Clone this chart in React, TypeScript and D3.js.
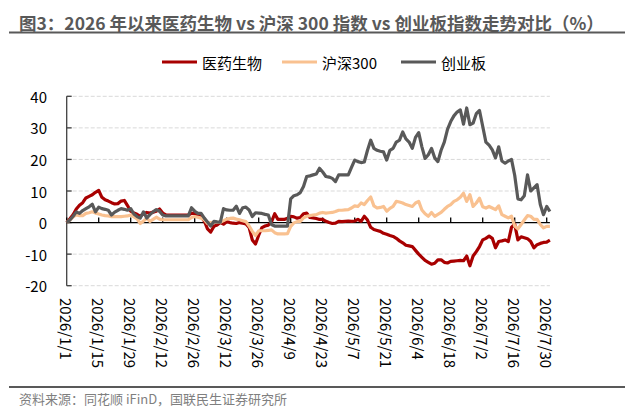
import * as d3 from "d3";
import { useRef, useEffect } from "react";

// Cumulative change since 2026/1/1 (%), one value per weekday 1/1 .. 7/31
const medicine = [
  0, 1.2, 2.5, 4.3, 5.5, 6.3, 7.8, 8.3, 8.8, 9.6,
  10.2, 8.0, 7.2, 6.8, 6.3, 5.9, 6.0, 6.8, 7.0, 5.4,
  3.6, 3.0, 2.6, 2.0, 2.8, 3.2, 3.0, 3.3, 3.6, 4.3,
  3.0, 2.4, 2.4, 2.4, 2.4, 2.4, 2.4, 2.4, 2.4, 2.9,
  3.0, 2.1, 2.0, 0.5, -2.0, -3.0, -1.2, -0.8, 0.0, -0.5,
  0.3, 0.0, -0.2, -0.3, 0.0, -0.2, -0.4, -1.5, -5.5, -6.8,
  -4.0, -1.6, -1.1, -0.8, 0.2, 2.8, 1.0, 1.0, 1.0, 1.4,
  2.0, 1.8, 1.4, 1.6, 2.8, 3.0, 1.6, 1.5, 1.3, 1.0,
  1.0, 0.4, 0.0, -0.3, -0.2, 0.4, 0.3, 0.4, 0.5, 0.4,
  0.5, 1.0, 0.4, 2.0, 0.8, -1.5, -2.2, -2.5, -2.8, -3.4,
  -3.7, -4.1, -4.4, -5.0, -5.8, -6.4, -7.2, -7.4, -7.6, -8.8,
  -10.0, -11.0, -12.0, -12.6, -13.2, -12.9, -11.8, -11.8, -12.6, -12.8,
  -12.3, -12.2, -12.1, -12.0, -12.1, -10.6, -13.7, -10.6, -9.2, -7.6,
  -5.5, -5.0, -4.3, -5.0, -8.0, -6.0, -5.8, -5.5, -6.0, -1.5,
  -0.5, -5.5, -4.5, -4.8, -5.1, -6.0, -8.0, -7.0, -6.6, -6.3,
  -6.2, -5.6,
];

const csi300 = [
  0, 0.8, 1.8, 2.4, 2.2, 2.2, 2.9, 3.1, 3.4, 3.0,
  2.7, 2.4, 2.2, 2.1, 1.9, 1.9, 1.9, 1.9, 2.0, 2.1,
  2.4, 1.8, 1.2, -0.3, 0.5, 1.4, 0.4, 1.0, 1.7, 1.1,
  0.9, 0.9, 0.9, 0.9, 0.9, 0.9, 0.9, 0.9, 0.9, 1.6,
  1.9, 1.7, 1.4, 0.9, -0.3, 0.0, 0.1, 0.1, 0.1, 0.6,
  1.1, 1.3, 1.4, 1.1, 0.9, 0.6, 0.3, -1.1, -2.8, -4.1,
  -2.6, -2.6, -2.6, -2.5, -2.3, -3.2, -3.6, -3.6, -3.6, -3.5,
  -1.2, -0.1, 0.3, 0.4, 1.5, 2.0, 2.2, 2.4, 2.5, 3.0,
  3.2, 3.0, 3.1, 3.2, 3.5, 3.9, 3.9, 4.0, 4.1, 4.6,
  5.3, 5.1, 6.2, 5.7, 7.0, 8.1, 5.3, 4.6, 4.8, 5.1,
  3.6, 4.5, 5.1, 6.7, 6.5, 6.2, 5.7, 5.4, 5.1, 6.2,
  6.7, 4.0, 2.8, 2.0, 3.2, 2.0, 2.6, 3.2, 4.2, 5.1,
  5.7, 6.7, 7.2, 8.0, 9.3, 6.7, 8.8, 5.1, 6.2, 7.7,
  5.0, 4.6, 5.1, 4.6, 4.1, 5.3, 2.5, 2.0, 1.5, 2.0,
  -1.1, -2.0, -0.6, 0.8, 2.2, 2.0, 1.0, 1.0, -0.6, -1.7,
  -1.2, -1.2,
];

const chinext = [
  0, 0.8, 2.0, 3.4, 2.9, 3.8, 4.4, 5.0, 5.8, 3.4,
  4.9, 4.4, 4.2, 3.9, 2.4, 3.3, 3.9, 4.4, 4.2, 3.9,
  4.4, 2.7, 1.9, 1.4, 3.4, 1.4, 2.5, 3.4, 4.1, 3.6,
  2.4, 2.1, 2.1, 2.1, 2.1, 2.1, 2.1, 2.1, 2.1, 4.7,
  3.6, 2.9, 2.9, 1.4, 0.2, -1.1, 0.4, 0.2, 0.1, 4.4,
  4.0, 3.9, 3.9, 5.2, 2.9, 4.7, 4.9, 4.0, 1.9, 3.1,
  3.0, 2.9, 2.6, 2.4, -0.6, -1.1, -1.1, -1.1, -1.1, -1.1,
  7.5, 8.5, 8.8, 9.5, 11.4, 14.6, 14.8, 15.1, 15.4, 17.2,
  16.0, 14.6, 14.4, 14.0, 13.0, 15.1, 15.1, 15.1, 15.1, 17.5,
  19.8, 19.3, 19.0, 19.2, 22.9, 26.1, 23.5, 22.9, 22.6, 22.4,
  19.8, 22.9, 23.5, 25.5, 26.1, 28.7, 26.5, 25.5, 23.5, 27.0,
  28.5, 24.0, 20.3, 21.5, 23.5, 20.5, 19.3, 22.9, 25.5, 29.5,
  32.0, 33.8, 35.0, 35.7, 31.2, 36.3, 31.0, 31.5, 34.5, 35.5,
  30.5, 25.5, 24.5, 23.0, 20.5, 24.0, 19.5, 18.8, 19.5, 20.0,
  15.0, 7.5, 7.2, 8.5, 15.1, 10.0, 11.0, 12.0, 5.7, 2.5,
  5.1, 3.5,
];

// one label every 10 trading days
const tickLabels = [
  "2026/1/1", "2026/1/15", "2026/1/29", "2026/2/12", "2026/2/26",
  "2026/3/12", "2026/3/26", "2026/4/9", "2026/4/23", "2026/5/7",
  "2026/5/21", "2026/6/4", "2026/6/18", "2026/7/2", "2026/7/16", "2026/7/30",
];
const yTicks = [40, 30, 20, 10, 0, -10, -20];

const seriesNames = ["医药生物", "沪深300", "创业板"];
const seriesColors = ["#a80000", "#f9c190", "#595959"];

const FONT = "'Noto Sans CJK SC', 'Noto Sans', sans-serif";

function draw(svgEl: SVGSVGElement | null) {
  if (!svgEl) return;
  const svg = d3.select(svgEl);
  svg.selectAll("*").remove();

  const n = medicine.length;
  const x = d3.scaleLinear().domain([0, n - 1]).range([66.7, 66.7 + (n - 1) * 3.2]);
  const y = d3.scaleLinear().domain([-20, 40]).range([285.7, 96.3]);
  const xRight = x(n - 1);

  // title + rules
  svg
    .append("text")
    .attr("x", 19)
    .attr("y", 22)
    .attr("dominant-baseline", "central")
    .attr("font-family", FONT)
    .attr("font-weight", 700)
    .attr("font-size", 17.5)
    .attr("fill", "#595959")
    .text("图3：2026 年以来医药生物 vs 沪深 300 指数 vs 创业板指数走势对比（%）");

  svg.append("line")
    .attr("x1", 9).attr("x2", 625).attr("y1", 32.5).attr("y2", 32.5)
    .attr("stroke", "#595959").attr("stroke-width", 2);

  svg.append("line")
    .attr("x1", 9).attr("x2", 625).attr("y1", 387).attr("y2", 387)
    .attr("stroke", "#595959").attr("stroke-width", 2);

  svg
    .append("text")
    .attr("x", 19)
    .attr("y", 398)
    .attr("dominant-baseline", "central")
    .attr("font-family", FONT)
    .attr("font-size", 13)
    .attr("fill", "#7f7f7f")
    .text("资料来源：同花顺 iFinD，国联民生证券研究所");

  // legend
  const legendX = [162, 282, 401];
  const legend = svg.append("g").attr("font-family", FONT).attr("font-size", 15);
  seriesNames.forEach((name, i) => {
    legend.append("line")
      .attr("x1", legendX[i]).attr("x2", legendX[i] + 35)
      .attr("y1", 62).attr("y2", 62)
      .attr("stroke", seriesColors[i]).attr("stroke-width", 3);
    legend.append("text")
      .attr("x", legendX[i] + 40).attr("y", 62)
      .attr("dominant-baseline", "central")
      .attr("fill", "#000")
      .text(name);
  });

  // gridlines
  svg.append("g")
    .selectAll("line")
    .data(yTicks.filter((t) => t !== 0))
    .join("line")
    .attr("x1", x(0)).attr("x2", xRight)
    .attr("y1", (d) => y(d)).attr("y2", (d) => y(d))
    .attr("stroke", "#d9d9d9")
    .attr("stroke-dasharray", "4,2");

  // y axis
  const yAxis = svg.append("g");
  yAxis.append("line")
    .attr("x1", x(0)).attr("x2", x(0)).attr("y1", y(40)).attr("y2", y(-20))
    .attr("stroke", "#404040").attr("stroke-width", 1.3);
  yAxis.selectAll("line.tick")
    .data(yTicks)
    .join("line")
    .attr("class", "tick")
    .attr("x1", x(0)).attr("x2", x(0) + 5)
    .attr("y1", (d) => y(d)).attr("y2", (d) => y(d))
    .attr("stroke", "#404040").attr("stroke-width", 1.3);
  yAxis.selectAll("text")
    .data(yTicks)
    .join("text")
    .attr("x", 47)
    .attr("y", (d) => y(d))
    .attr("text-anchor", "end")
    .attr("dominant-baseline", "central")
    .attr("font-family", FONT)
    .attr("font-size", 15)
    .attr("fill", "#000")
    .text((d) => String(d));

  // x axis on zero line
  const xAxis = svg.append("g");
  xAxis.append("line")
    .attr("x1", x(0)).attr("x2", xRight).attr("y1", y(0)).attr("y2", y(0))
    .attr("stroke", "#000").attr("stroke-width", 1.3);
  xAxis.selectAll("line.tick")
    .data(tickLabels)
    .join("line")
    .attr("class", "tick")
    .attr("x1", (_, i) => x(i * 10)).attr("x2", (_, i) => x(i * 10))
    .attr("y1", y(0)).attr("y2", y(0) - 5)
    .attr("stroke", "#000").attr("stroke-width", 1.3);
  xAxis.selectAll("text")
    .data(tickLabels)
    .join("text")
    .attr("transform", (_, i) => `translate(${x(i * 10)},298) rotate(90)`)
    .attr("dominant-baseline", "central")
    .attr("font-family", FONT)
    .attr("font-size", 15)
    .attr("fill", "#000")
    .text((d) => d);

  // series lines
  const line = d3.line<number>()
    .x((_, i) => x(i))
    .y((d) => y(d));

  svg.append("g")
    .selectAll("path")
    .data([medicine, csi300, chinext])
    .join("path")
    .attr("fill", "none")
    .attr("stroke", (_, i) => seriesColors[i])
    .attr("stroke-width", 3.2)
    .attr("stroke-linejoin", "round")
    .attr("d", (d) => line(d));
}

const App = () => {
  const ref = useRef<SVGSVGElement | null>(null);

  useEffect(() => {
    draw(ref.current);
  }, []);

  return (
    <svg
      ref={ref}
      width={642}
      height={412}
      style={{ position: "absolute", left: 0, top: 0, background: "#fff" }}
    ></svg>
  );
};

export default App;
